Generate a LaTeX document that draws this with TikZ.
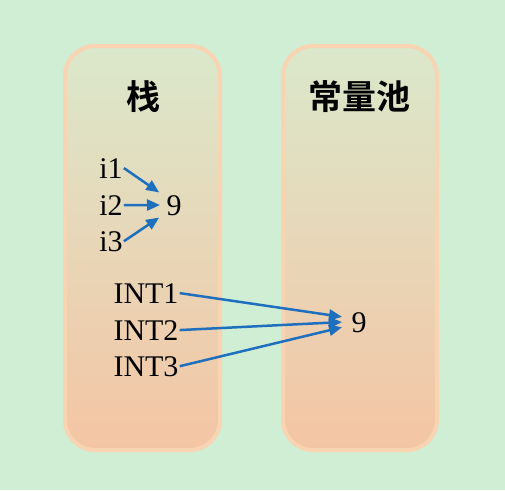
\documentclass[tikz,border=0pt]{standalone}
\usepackage{fontspec}
\setmainfont{Liberation Serif}
\newfontfamily\cjk{Noto Sans CJK SC}[BoldFont={Noto Sans CJK SC Bold}]
\usetikzlibrary{arrows.meta}
\definecolor{bg}{HTML}{D0EED4}
\definecolor{boxtop}{HTML}{DBE8CB}
\definecolor{boxbot}{HTML}{F4C5A4}
\definecolor{boxline}{HTML}{F8D4B3}
\definecolor{arr}{HTML}{1F6FBF}
\begin{document}
\begin{tikzpicture}[x=1pt,y=-1pt,
  column/.style={draw=boxline, line width=4pt, rounded corners=30pt, top color=boxtop, bottom color=boxbot},
  head/.style={font=\cjk\bfseries\fontsize{34}{38}\selectfont, inner sep=0pt},
  lbl/.style={font=\fontsize{30}{34}\selectfont, inner sep=1pt, anchor=base},
  pt/.style={-{Triangle[length=13pt,width=11pt]}, draw=arr, line width=2.5pt, shorten >=1pt}]
\fill[bg] (0,0) rectangle (505,490);
\useasboundingbox (0,0) rectangle (505,490);
\path[column] (65,46) rectangle (220,450);
\path[column] (283,46) rectangle (437,450);
\node[head] (h1) at (143,97) {栈};
\node[head] (h2) at (359,97) {常量池};
\node[lbl] (i1) at (111,178) {i1};
\node[lbl] (i2) at (111,215) {i2};
\node[lbl] (i3) at (111,251) {i3};
\node[lbl] (n1) at (174,215) {9};
\node[lbl] (I1) at (146,303) {INT1};
\node[lbl] (I2) at (146,340) {INT2};
\node[lbl] (I3) at (146,376) {INT3};
\node[lbl] (n2) at (359,332) {9};
\coordinate (t1) at (160,193);
\coordinate (t2) at (161,205);
\coordinate (t3) at (160,217);
\coordinate (u1) at (343,317);
\coordinate (u2) at (343,322);
\coordinate (u3) at (343,327);
\draw[pt] (i1.east) -- (t1);
\draw[pt] (i2.east) -- (t2);
\draw[pt] (i3.east) -- (t3);
\draw[pt] (I1.east) -- (u1);
\draw[pt] (I2.east) -- (u2);
\draw[pt] (I3.east) -- (u3);
\end{tikzpicture}
\end{document}
